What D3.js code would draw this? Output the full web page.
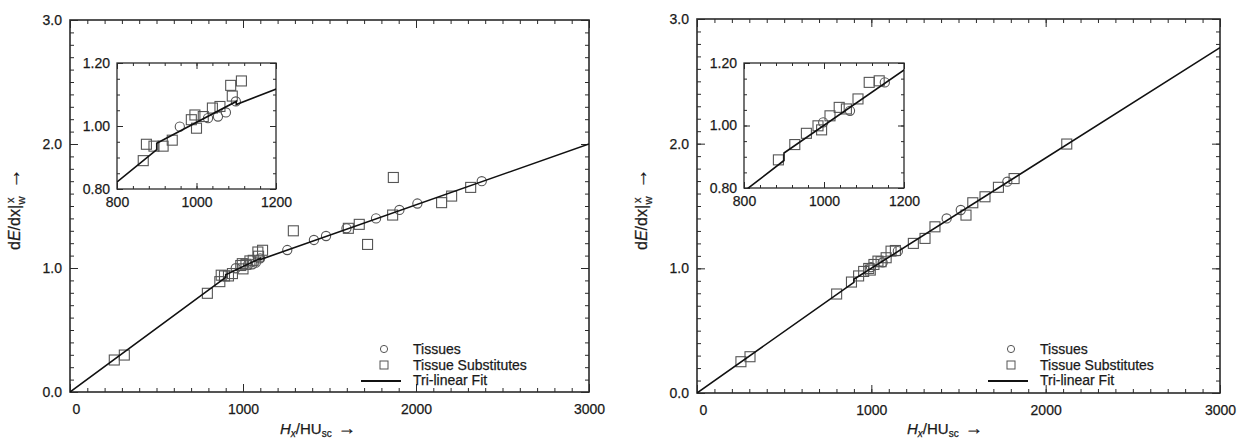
<!DOCTYPE html>
<html>
<head>
<meta charset="utf-8">
<script src="https://cdn.jsdelivr.net/npm/d3@7"></script>
<style>
	body { margin: 0; background: #fff; }
	svg text { font-family: 'Liberation Sans', Arial, sans-serif; fill: #1a1a1a; stroke: #1a1a1a; stroke-width: 0.25px; }
</style>
</head>
<body>
<svg id="chart" width="1238" height="440"></svg>
<script>
// DATA: LEFT PANEL (dE/dx ratio vs scaled HU)
const leftSquares = [
	[256, 0.258], [314, 0.298], [794, 0.796], [866, 0.890], [874, 0.942], [893, 0.936],
	[916, 0.936], [939, 0.955], [987, 1.020], [996, 1.035], [1000, 0.993], [1017, 1.030],
	[1040, 1.057], [1059, 1.062], [1086, 1.129], [1090, 1.095], [1113, 1.143], [1291, 1.300],
	[1609, 1.320], [1672, 1.352], [1720, 1.190], [1865, 1.427], [1869, 1.730], [2148, 1.527],
	[2206, 1.580], [2316, 1.650]
]
const leftCircles = [
	[958, 0.998], [1029, 1.025], [1054, 1.030], [1074, 1.043], [1099, 1.078], [1256, 1.145],
	[1410, 1.226], [1480, 1.258], [1598, 1.320], [1769, 1.400], [1904, 1.468], [2008, 1.520],
	[2380, 1.700]
]
const leftFitX = [0, 900, 900, 1100, 1100, 3000]
const leftFitY = [0, 0.925, 0.945, 1.078, 1.068, 2.0]

// DATA: RIGHT PANEL
const rightSquares = [
	[252, 0.251], [304, 0.291], [801, 0.794], [886, 0.890], [927, 0.939], [956, 0.975],
	[985, 0.999], [994, 0.986], [1015, 1.031], [1038, 1.058], [1056, 1.053], [1085, 1.085],
	[1113, 1.138], [1138, 1.143], [1241, 1.200], [1308, 1.240], [1365, 1.333], [1543, 1.427],
	[1582, 1.526], [1652, 1.574], [1729, 1.650], [1819, 1.720], [2121, 1.997]
]
const rightCircles = [
	[998, 1.010], [1065, 1.047], [1152, 1.138], [1432, 1.400], [1513, 1.468], [1780, 1.695]
]
const rightFitX = [0, 900, 900, 3000]
const rightFitY = [0, 0.888, 0.912, 2.77]

// AXES
const mainXTicks = [0, 1000, 2000, 3000]
const mainYTicks = [0, 1, 2, 3]
const insetXTicks = [800, 1000, 1200]
const insetYTicks = [0.8, 1.0, 1.2]
const legendLabels = ['Tissues', 'Tissue Substitutes', 'Tri-linear Fit']

const svg = d3.select('#chart')
const ink = '#2a2a2a'
const markInk = '#555'

function drawFrame (g, x, y, o) {
	const [xa, xb] = x.range()
	const [ya, yb] = y.range()
	g.append('rect')
		.attr('x', xa).attr('y', yb).attr('width', xb - xa).attr('height', ya - yb)
		.attr('fill', '#fff').attr('stroke', ink).attr('stroke-width', o.frame)

	const sides = [
		{ axis: d3.axisBottom(x), t: `translate(0,${ya})`, vals: o.xMinor, size: -o.minor },
		{ axis: d3.axisTop(x), t: `translate(0,${yb})`, vals: o.xMinor, size: -o.minor },
		{ axis: d3.axisLeft(y), t: `translate(${xa},0)`, vals: o.yMinor, size: -o.minor },
		{ axis: d3.axisRight(y), t: `translate(${xb},0)`, vals: o.yMinor, size: -o.minor },
		{ axis: d3.axisTop(x), t: `translate(0,${yb})`, vals: o.xMajor, size: -o.major },
		{ axis: d3.axisRight(y), t: `translate(${xb},0)`, vals: o.yMajor, size: -o.major }
	]
	sides.forEach(s => {
		const a = g.append('g').attr('transform', s.t)
			.call(s.axis.tickValues(s.vals).tickSize(s.size).tickFormat(''))
		a.select('.domain').remove()
		a.selectAll('line').attr('stroke', ink).attr('stroke-width', 1)
	})

	const bx = g.append('g').attr('transform', `translate(0,${ya})`)
		.call(d3.axisBottom(x).tickValues(o.xMajor).tickSize(-o.major).tickPadding(o.xPad).tickFormat(o.xFmt))
	const by = g.append('g').attr('transform', `translate(${xa},0)`)
		.call(d3.axisLeft(y).tickValues(o.yMajor).tickSize(-o.major).tickPadding(o.yPad).tickFormat(o.yFmt))
	;[bx, by].forEach(a => {
		a.select('.domain').remove()
		a.selectAll('line').attr('stroke', ink).attr('stroke-width', 1)
		a.selectAll('text').attr('font-size', o.font).attr('fill', '#1a1a1a')
			.style('font-family', "'Liberation Sans', Arial, sans-serif")
	})
	return bx
}

function drawMarks (g, x, y, squares, circles, fitX, fitY) {
	const [dx0, dx1] = x.domain()
	const [dy0, dy1] = y.domain()
	const inside = d => d[0] >= dx0 && d[0] <= dx1 && d[1] >= dy0 && d[1] <= dy1
	const line = d3.line().x(d => x(d[0])).y(d => y(d[1]))
	const fit = d3.zip(fitX, fitY)

	const clipId = 'clip' + Math.round(x.range()[0])
	g.append('clipPath').attr('id', clipId).append('rect')
		.attr('x', x.range()[0]).attr('y', y.range()[1])
		.attr('width', x.range()[1] - x.range()[0]).attr('height', y.range()[0] - y.range()[1])
	const c = g.append('g').attr('clip-path', `url(#${clipId})`)

	c.selectAll('rect.sq').data(squares.filter(inside)).join('rect')
		.attr('class', 'sq')
		.attr('x', d => x(d[0]) - 5).attr('y', d => y(d[1]) - 5)
		.attr('width', 10).attr('height', 10)
		.attr('fill', 'none').attr('stroke', markInk).attr('stroke-width', 1.1)
	c.selectAll('circle.ci').data(circles.filter(inside)).join('circle')
		.attr('class', 'ci')
		.attr('cx', d => x(d[0])).attr('cy', d => y(d[1])).attr('r', 4.6)
		.attr('fill', 'none').attr('stroke', markInk).attr('stroke-width', 1.1)
	c.append('path').datum(fit).attr('d', line)
		.attr('fill', 'none').attr('stroke', '#111').attr('stroke-width', 1.6)
}

function panel (p) {
	const g = svg.append('g')
	const x = d3.scaleLinear().domain([0, 3000]).range([p.x0, p.x1])
	const y = d3.scaleLinear().domain([0, 3]).range([p.y0, p.y1])
	const bx = drawFrame(g, x, y, {
		frame: 1.6, minor: 4, major: 8, font: 14, xPad: 12, yPad: 8,
		xMinor: d3.range(0, 3001, 100), yMinor: d3.range(0, 3.001, 0.1),
		xMajor: mainXTicks, yMajor: mainYTicks,
		xFmt: d3.format('d'), yFmt: d3.format('.1f')
	})
	bx.selectAll('.tick').filter(d => d === 0).select('text').attr('dx', 6)
	drawMarks(g, x, y, p.squares, p.circles, p.fitX, p.fitY)

	// INSET
	const ix = d3.scaleLinear().domain([800, 1200]).range([p.ix0, p.ix1])
	const iy = d3.scaleLinear().domain([0.8, 1.2]).range([p.iy0, p.iy1])
	const ig = g.append('g')
	drawFrame(ig, ix, iy, {
		frame: 1.3, minor: 3, major: 6, font: 14, xPad: 8, yPad: 7,
		xMinor: d3.range(800, 1201, 40), yMinor: d3.range(0.8, 1.2001, 0.05),
		xMajor: insetXTicks, yMajor: insetYTicks,
		xFmt: d3.format('d'), yFmt: d3.format('.2f')
	})
	drawMarks(ig, ix, iy, p.squares, p.circles, p.fitX, p.fitY)

	// LEGEND
	const lg = g.append('g').attr('transform', `translate(${p.x0 + 343},349)`)
	lg.append('circle').attr('cx', -29).attr('cy', 0).attr('r', 3.6)
		.attr('fill', 'none').attr('stroke', markInk).attr('stroke-width', 1)
	lg.append('rect').attr('x', -33).attr('y', 12).attr('width', 8).attr('height', 8)
		.attr('fill', 'none').attr('stroke', markInk).attr('stroke-width', 1)
	lg.append('line').attr('x1', -52).attr('x2', -12).attr('y1', 32).attr('y2', 32)
		.attr('stroke', '#111').attr('stroke-width', 2)
	lg.selectAll('text').data(legendLabels).join('text')
		.attr('x', 0).attr('y', (d, i) => i * 15.5).attr('dy', '0.36em')
		.attr('font-size', 14).text(d => d)

	// AXIS TITLES
	const xt = g.append('text').attr('x', p.x0 + 210).attr('y', 434).attr('font-size', 15)
	xt.append('tspan').attr('font-style', 'italic').text('H')
	xt.append('tspan').attr('font-size', 10).attr('font-style', 'italic').attr('dy', 3).text('x')
	xt.append('tspan').attr('dy', -3).text('/HU')
	xt.append('tspan').attr('font-size', 10).attr('dy', 3).text('sc')
	xt.append('tspan').attr('dy', -3).attr('dx', 6).attr('font-size', 18).text('\u2192')

	const yt = g.append('text').attr('font-size', 16)
		.attr('transform', `translate(${p.x0 - 50},250) rotate(-90)`)
	yt.append('tspan').text('d')
	yt.append('tspan').attr('font-style', 'italic').text('E')
	yt.append('tspan').text('/dx|')
	yt.append('tspan').attr('font-size', 11).attr('dy', -6).attr('dx', 2).text('x')
	yt.append('tspan').attr('font-size', 11).attr('dy', 11).attr('dx', -7).text('w')
	yt.append('tspan').attr('dy', -5).attr('dx', 8).attr('font-size', 20).text('\u2192')
}

panel({
	x0: 70, x1: 589, y0: 392, y1: 20,
	ix0: 117, ix1: 276, iy0: 189, iy1: 63,
	squares: leftSquares, circles: leftCircles, fitX: leftFitX, fitY: leftFitY
})
panel({
	x0: 697, x1: 1220, y0: 393, y1: 19,
	ix0: 744, ix1: 904, iy0: 188, iy1: 63,
	squares: rightSquares, circles: rightCircles, fitX: rightFitX, fitY: rightFitY
})
</script>
</body>
</html>
